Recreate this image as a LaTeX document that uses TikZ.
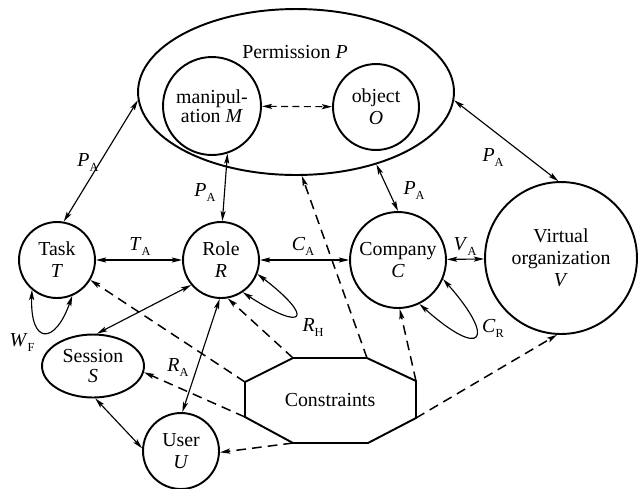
\documentclass[tikz,border=0pt]{standalone}
\usepackage{fontspec}
\setmainfont{Liberation Serif}
\usetikzlibrary{arrows.meta,positioning,shapes.geometric}
\newcommand\rel[2]{\textit{#1}\raisebox{-0.55ex}{\fontsize{7}{8}\selectfont #2}}

\begin{document}
\begin{tikzpicture}[
    x=0.02cm, y=-0.02cm,
    every node/.style={font=\fontsize{11.3}{12.5}\selectfont},
    ent/.style={circle, draw, line width=1.1pt, align=center, inner sep=0pt},
    oval/.style={ellipse, draw, line width=1.1pt, align=center, inner sep=0pt},
    link/.style={{Stealth[length=5.8pt,width=2.9pt,inset=1.2pt]}-{Stealth[length=5.8pt,width=2.9pt,inset=1.2pt]},
                 line width=0.65pt},
    cons/.style={-{Stealth[length=5.8pt,width=2.9pt,inset=1.2pt]}, line width=0.85pt,
                 dash pattern=on 5.5pt off 3.5pt}
  ]
    \useasboundingbox (0,0) rectangle (641,488);

    % Permission with its parts
    \node[oval, minimum width=6.32cm, minimum height=3.32cm] (perm) at (296,92) {};
    \node (ptitle) at (295,52) {Permission \textit{P}};
    \node[ent, minimum size=1.96cm, font=\fontsize{11.3}{9.6}\selectfont] (manip) at (212,106) {manipul-\\ation \textit{M}};
    \node[ent, minimum size=1.72cm] (obj) at (376,107) {object\\\textit{O}};

    % Entities
    \node[ent, minimum size=1.52cm] (task) at (57,260) {Task\\\textit{T}};
    \node[ent, minimum size=1.52cm] (role) at (221,260) {Role\\\textit{R}};
    \node[ent, minimum size=1.92cm] (comp) at (398,260) {Company\\\textit{C}};
    \node[ent, minimum size=3.04cm] (vorg) at (561,258) {Virtual\\organization\\\textit{V}};
    \node[oval, minimum width=2.04cm, minimum height=1.26cm, font=\fontsize{11.3}{11.4}\selectfont] (sess) at (93,366) {Session\\\textit{S}};
    \node[ent, minimum size=1.52cm] (user) at (181,451) {User\\\textit{U}};

    % Constraints octagon
    \coordinate (c1) at (293,358);
    \coordinate (c2) at (367,358);
    \coordinate (c3) at (416,381);
    \coordinate (c4) at (416,418);
    \coordinate (c5) at (368,443);
    \coordinate (c6) at (293,443);
    \coordinate (c7) at (245,417);
    \coordinate (c8) at (245,382);
    \draw[line width=1.1pt] (c1) -- (c2) -- (c3) -- (c4) -- (c5) -- (c6) -- (c7) -- (c8) -- cycle;
    \node (cons) at (330,400) {Constraints};

    % Assignments
    \draw[link, dash pattern=on 4pt off 2.5pt] (manip) -- (obj);
    \draw[link] (perm.183) -- (task.80);
    \draw[link] (perm.-3) -- (vorg.92);
    \draw[link] (manip.-72) -- (role.88);
    \draw[link] (perm.-42) -- (comp.90);
    \draw[link] (task) -- (role);
    \draw[link] (role) -- (comp);
    \draw[link] (comp) -- (vorg);
    \draw[link] (role.220) -- (sess.83);
    \draw[link] (role.268) -- (user.88);
    \draw[link] (sess.274) -- (user.176);

    % Self loops
    \draw[link] (task.230) .. controls (30,345) and (55,345) .. (task.293);
    \draw[link] (role.-21) .. controls (315,318) and (305,333) .. (role.-56);
    \draw[link] (comp.-23) .. controls (497,340) and (482,360) .. (comp.-64);

    % Labels
    \node (lpt) at (88,162) {\rel{P}{A}};
    \node (lpv) at (493,157) {\rel{P}{A}};
    \node (lpr) at (205,192) {\rel{P}{A}};
    \node (lpc) at (414,190) {\rel{P}{A}};
    \node (lta) at (140,246) {\rel{T}{A}};
    \node (lca) at (303,246) {\rel{C}{A}};
    \node (lva) at (465,246) {\rel{V}{A}};
    \node (lra) at (178,367) {\rel{R}{A}};
    \node (lwf) at (22,342) {\rel{W}{F}};
    \node (lrh) at (313,327) {\rel{R}{H}};
    \node (lcr) at (493,328) {\rel{C}{R}};

    % Constraints
    \draw[cons] (c8) -- (task.-31);
    \draw[cons] (c1) -- (role.-80);
    \draw[cons] (c7) -- (sess.-7);
    \draw[cons] (c6) -- (user.-2);
    \draw[cons] (c2) -- (perm.-86);
    \draw[cons] (c3) -- (comp.-88);
    \draw[cons] (c4) -- (vorg.-93);
  \end{tikzpicture}
\end{document}
